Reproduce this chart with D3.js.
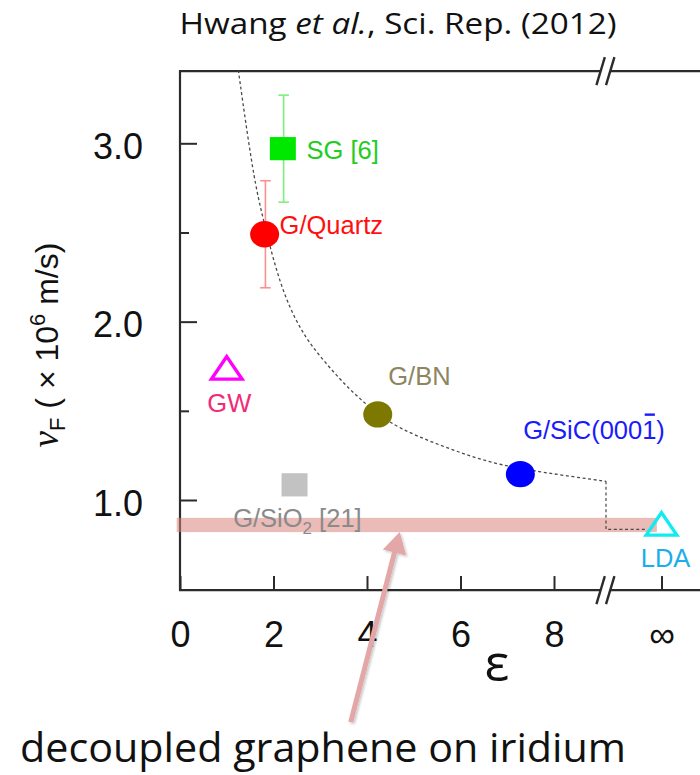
<!DOCTYPE html>
<html>
<head>
<meta charset="utf-8">
<script src="https://cdn.jsdelivr.net/npm/d3@7"></script>
<style>
  html, body { margin: 0; padding: 0; background: #fff; }
  svg { display: block; }
</style>
</head>
<body>
<svg id="chart" width="700" height="775"></svg>
<script>
// ---- data -----------------------------------------------------------
// Fermi velocity of graphene on various substrates vs. dielectric constant
const samples   = ["G/Quartz", "SG", "GW", "G/BN", "G/SiO2", "G/SiC", "LDA"];
const X_INF     = 10.3;                                   // axis slot used for ε = ∞
const epsilon   = [1.81, 2.20, 1.00, 4.23, 2.45, 7.28, X_INF];
const vF        = [2.49, 2.97, 1.72, 1.48, 1.085, 1.145, 0.845];
const vErr      = [0.30, 0.30, 0, 0, 0, 0, 0];
const labelParts = [
  [["G/Quartz"]],
  [["SG [6]"]],
  [["GW"]],
  [["G/BN"]],
  [["G/SiO"], ["2", "sub"], [" [21]", "base"]],
  [["G/SiC(000"], ["1", "bar"], [")"]],
  [["LDA"]]
];

// renormalised velocity curve (dashed)
const curveEps = [1.247, 1.568, 1.782, 2.139, 2.567, 2.995, 3.566, 3.887, 4.23, 4.706, 5.418, 6.133, 6.845, 7.701, 8.413, 9.112];
const curveV   = [3.411, 2.813, 2.570, 2.200, 1.953, 1.803, 1.635, 1.560, 1.480, 1.400, 1.321, 1.252, 1.196, 1.158, 1.130, 1.105];
// step across the axis break down to the ε = ∞ value
const stepEps  = [9.112, 9.112, 9.98];
const stepV    = [1.105, 0.835, 0.835];

const xTickVals   = [0, 2, 4, 6, 8, X_INF];
const xTickLabels = ["0", "2", "4", "6", "8", "∞"];
const yMajorTicks = [1.0, 2.0, 3.0];
const yMinorTicks = [1.5, 2.5];
const yTickLabels = ["1.0", "2.0", "3.0"];

// highlighted range: decoupled graphene on iridium
const bandEps = [-0.07, 10.2];
const bandV   = [0.82, 0.90];
const arrowEps = 4.7;

// ---- layout & style ---------------------------------------------------
const svg = d3.select("#chart");
const x = d3.scaleLinear().domain([0, 8]).range([180, 554]);
const y = d3.scaleLinear().domain([1, 3]).range([500, 143.3]);
const yTop = 3.405, yBottom = 0.495, xRight = 11.3, xBreak = 9.1;

const AX = "Liberation Sans, Arial, Helvetica, sans-serif";
const CAL = "'Open Sans', 'Noto Sans', sans-serif";
const axisColor = "#2b2b2b";

const style = {
  "G/Quartz": { fill: "#ff0000", text: "#ff1010", err: "#ff8f8f", shape: "circle", off: [15, -0.5, "start"] },
  "SG":       { fill: "#00e800", text: "#22cc22", err: "#7fef7f", shape: "square", off: [23.7, 10, "start"] },
  "GW":       { fill: "none", stroke: "#ff00ff", text: "#f22a78", shape: "triangle", off: [2.5, 40.5, "middle"] },
  "G/BN":     { fill: "#7d7800", text: "#8d8660", shape: "circle", off: [10.5, -29, "start"] },
  "G/SiO2":   { fill: "#c2c2c2", text: "#8a8a8a", shape: "square", off: [-61.4, 42, "start"] },
  "G/SiC":    { fill: "#0000ff", text: "#1a1aff", shape: "circle", off: [2.8, -35.5, "start"] },
  "LDA":      { fill: "none", stroke: "#12ecf0", text: "#1caeea", shape: "triangle", off: [4, 39, "middle"] }
};

const defs = svg.append("defs");
defs.append("clipPath").attr("id", "plotClip")
  .append("rect")
  .attr("x", x(0)).attr("y", y(yTop))
  .attr("width", x(xRight) - x(0)).attr("height", y(yBottom) - y(yTop));
const shadow = defs.append("filter").attr("id", "arrowShadow")
  .attr("x", "-50%").attr("y", "-10%").attr("width", "200%").attr("height", "120%");
shadow.append("feDropShadow").attr("dx", 1.5).attr("dy", 1.5)
  .attr("stdDeviation", 1.2).attr("flood-color", "#000").attr("flood-opacity", 0.22);

// ---- title ------------------------------------------------------------
const title = svg.append("text")
  .attr("x", 398).attr("y", 34)
  .attr("text-anchor", "middle")
  .attr("font-family", CAL).attr("font-size", 30).attr("fill", "#111")
  .attr("textLength", 437).attr("lengthAdjust", "spacingAndGlyphs");
title.append("tspan").text("Hwang ");
title.append("tspan").attr("font-style", "italic").text("et al.");
title.append("tspan").text(", Sci. Rep. (2012)");

// ---- axes ---------------------------------------------------------------
const yAxis = d3.axisLeft(y).tickValues(yMajorTicks).tickSize(-17).tickPadding(37)
  .tickFormat((d, i) => yTickLabels[i]);
const gy = svg.append("g").attr("transform", `translate(${x(0)},0)`).call(yAxis);
svg.append("g").attr("transform", `translate(${x(0)},0)`)
  .call(d3.axisLeft(y).tickValues(yMinorTicks).tickSize(-9).tickFormat(""))
  .call(g => g.select(".domain").remove())
  .selectAll("line").attr("stroke", axisColor).attr("stroke-width", 2);
gy.select(".domain").remove();
gy.selectAll("line").attr("stroke", axisColor).attr("stroke-width", 2);
gy.selectAll("text").attr("font-family", AX).attr("font-size", 36)
  .attr("fill", "#111").attr("dy", "0.42em");

const xAxis = d3.axisBottom(x).tickValues(xTickVals).tickSize(-14).tickPadding(31)
  .tickFormat((d, i) => xTickLabels[i]);
const gx = svg.append("g").attr("transform", `translate(0,${y(yBottom)})`).call(xAxis);
gx.select(".domain").remove();
gx.selectAll("line").attr("stroke", axisColor).attr("stroke-width", 2);
gx.selectAll("text").attr("font-family", AX).attr("font-size", 36).attr("fill", "#111");

// frame lines with the axis break
const bx = x(xBreak), gapHalf = 4.8;
const frame = svg.append("g").attr("stroke", axisColor).attr("stroke-width", 2.2).attr("fill", "none");
frame.append("line").attr("x1", x(0)).attr("x2", x(0)).attr("y1", y(yTop)).attr("y2", y(yBottom));
[yTop, yBottom].forEach(v => {
  frame.append("line").attr("x1", x(0) - 1).attr("x2", bx - gapHalf).attr("y1", y(v)).attr("y2", y(v));
  frame.append("line").attr("x1", bx + gapHalf).attr("x2", x(xRight)).attr("y1", y(v)).attr("y2", y(v));
  [-gapHalf, gapHalf].forEach(dx => {
    frame.append("line")
      .attr("x1", bx + dx - 4.2).attr("y1", y(v) + 14)
      .attr("x2", bx + dx + 4.2).attr("y2", y(v) - 14)
      .attr("stroke-width", 2.4);
  });
});

// y-axis title
const yTitle = svg.append("text")
  .attr("transform", `translate(58,${345}) rotate(-90)`)
  .attr("text-anchor", "middle")
  .attr("font-family", AX).attr("font-size", 32).attr("fill", "#111");
yTitle.append("tspan").attr("font-family", "'Liberation Serif', 'DejaVu Serif', serif")
  .attr("font-style", "italic").attr("font-size", 37).text("ν");
yTitle.append("tspan").attr("font-size", 22).attr("dy", 7).text("F");
yTitle.append("tspan").attr("dy", -7).text(" ( × 10");
yTitle.append("tspan").attr("font-size", 22).attr("dy", -13).text("6");
yTitle.append("tspan").attr("dy", 13).text(" m/s)");

// ---- highlight band (under the data marks) -----------------------------
svg.append("rect")
  .attr("x", x(bandEps[0])).attr("y", y(bandV[1]))
  .attr("width", x(bandEps[1]) - x(bandEps[0])).attr("height", y(bandV[0]) - y(bandV[1]))
  .attr("fill", "#d9837c").attr("opacity", 0.55);

// ---- dashed theory curve --------------------------------------------
const plot = svg.append("g").attr("clip-path", "url(#plotClip)");
const curvePts = curveEps.map((e, i) => [x(e), y(curveV[i])]);
plot.append("path")
  .attr("d", d3.line().curve(d3.curveBasis)(curvePts))
  .attr("fill", "none").attr("stroke", "#4a4a4a")
  .attr("stroke-width", 1.3).attr("stroke-dasharray", "3,2.6");
plot.append("path")
  .attr("d", d3.line()(stepEps.map((e, i) => [x(e), y(stepV[i])])))
  .attr("fill", "none").attr("stroke", "#4a4a4a")
  .attr("stroke-width", 1.2).attr("stroke-dasharray", "3,2.6");

// ---- markers ------------------------------------------------------------
const pts = samples.map((s, i) => ({ name: s, e: epsilon[i], v: vF[i], err: vErr[i], parts: labelParts[i], st: style[s] }));
const markers = svg.append("g");

// error bars
pts.filter(d => d.err > 0).forEach(d => {
  const g = markers.append("g").attr("stroke", d.st.err).attr("stroke-width", 1.6);
  const cx = x(d.e) + 0.8;
  g.append("line").attr("x1", cx).attr("x2", cx).attr("y1", y(d.v - d.err)).attr("y2", y(d.v + d.err));
  [d.v - d.err, d.v + d.err].forEach(v =>
    g.append("line").attr("x1", cx - 5.3).attr("x2", cx + 5.3).attr("y1", y(v)).attr("y2", y(v)));
});

pts.forEach(d => {
  const cx = x(d.e), cy = y(d.v);
  if (d.st.shape === "circle") {
    markers.append("ellipse").attr("cx", cx).attr("cy", cy).attr("rx", 14.5).attr("ry", 13.2)
      .attr("fill", d.st.fill);
  } else if (d.st.shape === "square") {
    markers.append("rect").attr("x", cx - 13).attr("y", cy - 11.6).attr("width", 26).attr("height", 23.2)
      .attr("fill", d.st.fill);
  } else {
    const hw = 15.3, h = 22.5;
    const pathD = `M${cx},${cy - h * 2 / 3}L${cx + hw},${cy + h / 3}L${cx - hw},${cy + h / 3}Z`;
    markers.append("path").attr("d", pathD).attr("fill", "none")
      .attr("stroke", d.st.stroke).attr("stroke-width", 3.4).attr("stroke-linejoin", "miter");
  }
});

// labels
pts.forEach(d => {
  const [dx, dy, anchor] = d.st.off;
  const t = markers.append("text")
    .attr("x", x(d.e) + dx).attr("y", y(d.v) + dy)
    .attr("text-anchor", anchor)
    .attr("font-family", AX).attr("font-size", 25.5).attr("fill", d.st.text);
  let idx = 0, barIdx = -1;
  d.parts.forEach(([txt, kind]) => {
    const ts = t.append("tspan").text(txt);
    if (kind === "sub") ts.attr("font-size", 17).attr("dy", 7);
    if (kind === "base") ts.attr("dy", -7);
    if (kind === "bar") barIdx = idx;
    idx += txt.length;
  });
  if (barIdx >= 0) {
    const ext = t.node().getExtentOfChar(barIdx);
    markers.append("line")
      .attr("x1", ext.x + 2.5).attr("x2", ext.x + ext.width - 1.5)
      .attr("y1", ext.y - 1).attr("y2", ext.y - 1)
      .attr("stroke", d.st.text).attr("stroke-width", 2.4);
  }
});

// ---- arrow pointing at the band ---------------------------------------
const tipX = x(arrowEps), tipY = y(bandV[0]);
const tailX = tipX - 49, tailY = tipY + 190;
const ang = Math.atan2(tipY - tailY, tipX - tailX);
const headLen = 21, headHalf = 12;
const baseX = tipX - headLen * Math.cos(ang), baseY = tipY - headLen * Math.sin(ang);
const px = -Math.sin(ang), py = Math.cos(ang);
const arrow = svg.append("g").attr("filter", "url(#arrowShadow)");
arrow.append("line")
  .attr("x1", tailX).attr("y1", tailY).attr("x2", baseX + 2 * Math.cos(ang)).attr("y2", baseY + 2 * Math.sin(ang))
  .attr("stroke", "#e2a7a6").attr("stroke-width", 5);
arrow.append("path")
  .attr("d", `M${tipX},${tipY}L${baseX + headHalf * px},${baseY + headHalf * py}L${baseX - headHalf * px},${baseY - headHalf * py}Z`)
  .attr("fill", "#e2a7a6");

// ---- axis symbol and annotation text ------------------------------------
svg.append("text")
  .attr("x", 497).attr("y", 681)
  .attr("text-anchor", "middle")
  .attr("font-family", CAL).attr("font-size", 52).attr("fill", "#111")
  .text("ε");

svg.append("text")
  .attr("x", 20).attr("y", 762)
  .attr("font-family", CAL).attr("font-size", 40).attr("fill", "#111")
  .attr("textLength", 606).attr("lengthAdjust", "spacingAndGlyphs")
  .text("decoupled graphene on iridium");
</script>
</body>
</html>
